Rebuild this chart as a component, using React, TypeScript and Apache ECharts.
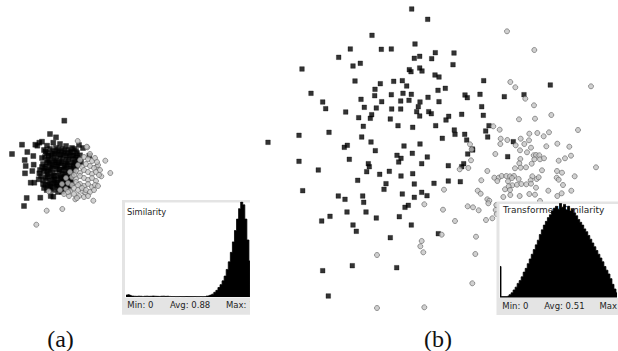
import React, { useEffect, useRef } from "react";
import * as echarts from "echarts";

// ---- panel (a) scatter: [x, y] in picture units ----
const aBlack: [number, number][] = [
  [64.3, 120.7], [50, 134], [56, 137.3], [22, 144.7], [12, 154], [35.3, 144.7], [37.3, 145.7], [42, 141.7],
  [47, 145.7], [27.3, 152], [33.3, 156], [24.7, 160], [25.7, 166], [33.7, 164.7], [32.3, 171], [25, 173.3],
  [39.3, 173.3], [30.7, 182.7], [34.3, 182.7], [38.7, 179.3], [45.3, 185], [26.7, 198], [40.3, 197.7],
  [53.3, 196.7], [24, 206], [80, 155.3], [62, 191.7], [89.3, 155.7], [39.3, 142.7], [53.3, 142.7],
  [40, 170], [43.3, 180], [46.7, 190], [50.7, 196],
  [44, 150], [47, 153], [50, 149], [53, 151], [56, 148], [59, 152], [62, 149], [65, 153], [68, 150], [71, 152],
  [74, 149], [77, 153], [45, 157], [48, 160], [51, 156], [54, 159], [57, 155], [60, 158], [63, 156], [66, 160],
  [69, 157], [72, 159], [75, 156], [78, 160], [43, 164], [46, 167], [49, 163], [52, 166], [55, 162], [58, 165],
  [61, 163], [64, 167], [67, 164], [70, 166], [73, 163], [76, 167], [44, 171], [47, 174], [50, 170], [53, 173],
  [56, 169], [59, 172], [62, 170], [65, 174], [68, 171], [71, 173], [74, 170], [46, 178], [49, 181], [52, 177],
  [55, 180], [58, 176], [61, 179], [64, 177], [67, 181], [70, 178], [48, 185], [51, 188], [54, 184], [57, 187],
  [60, 183], [63, 186], [66, 184], [44, 188], [58, 192], [69, 188], [72, 183], [81, 162], [83, 148], [79, 145],
  [60, 144], [66, 146], [42, 158], [41, 176],
  [45.5, 151.5], [48.5, 155.5], [52, 154], [55, 153.5], [58, 150], [61, 154.5], [64, 151], [67, 155.5],
  [70, 153], [73, 155.5], [76, 151], [47, 162.5], [50, 161], [53, 164.5], [56, 160.5], [59, 163], [62, 161.5],
  [65, 165.5], [68, 162], [71, 168.5], [74, 165], [45, 168.5], [48, 171.5], [51, 168], [54, 175.5], [57, 166.5],
  [60, 169.5], [63, 174.5], [66, 169], [69, 175], [72, 176], [48, 176.5], [51, 183], [54, 179], [57, 182.5],
  [60, 177.5], [63, 181.5], [66, 179], [50, 186.5], [53, 190], [56, 185], [59, 189], [62, 184.5], [42, 167],
  [43, 184], [65, 189], [75, 162], [77, 157.5], [79, 164], [72, 148], [70, 180.5], [68, 186],
];
const aGray: [number, number][] = [
  [77.7, 141], [87.3, 147.3], [105.3, 160.7], [110.3, 173], [101.3, 176.3], [96.7, 166.7], [75.3, 199.3],
  [62.3, 209], [46.7, 210.7], [93.3, 200.7], [82.7, 191], [85.3, 192.7], [48.7, 191.3], [60, 190], [36.3, 224.7],
  [86.7, 146.7],
  [80, 160], [84, 157], [88, 159], [92, 161], [95, 158], [78, 165], [82, 167], [86, 164], [90, 166], [94, 168],
  [98, 165], [76, 171], [80, 173], [84, 170], [88, 172], [92, 174], [96, 172], [99, 175], [72, 177], [76, 179],
  [80, 176], [84, 178], [88, 180], [92, 178], [96, 181], [68, 183], [72, 185], [76, 182], [80, 184], [84, 186],
  [88, 184], [92, 187], [95, 185], [66, 189], [70, 191], [74, 188], [78, 190], [82, 188], [86, 190], [90, 192],
  [64, 194], [69, 196], [74, 194], [79, 196], [84, 197], [88, 196], [66, 178], [70, 172], [74, 175], [62, 184],
  [90, 154], [97, 162], [100, 170], [98, 186], [94, 190], [78, 185], [68, 192], [77, 198],
];

// ---- panel (b) scatter ----
const bBlack: [number, number][] = [
  [411.7, 9], [427.7, 19.3], [372, 35.3], [415, 44], [350.3, 49], [381.3, 49.3], [391.3, 49], [338.7, 57.3],
  [414.3, 58.3], [419.7, 56.3], [435.3, 52.7], [431.7, 58.7], [360.3, 63.3], [353, 66], [302, 69], [409.3, 69.7],
  [411, 71.7], [419.7, 68], [422, 71], [435, 75], [439, 77], [355, 81], [380.3, 83.7], [393.7, 81.3], [402.3, 80.7],
  [406.7, 86], [375, 89.3], [311, 93.3], [391.3, 94.7], [403, 93.3], [411.3, 94.3], [438, 90.3], [374.7, 95.7],
  [361, 99.3], [428, 97.3], [322.7, 102], [381.7, 101.7], [400.7, 101], [409, 100.3], [420, 102], [439, 101.7],
  [325.7, 108.7], [364.3, 107.3], [376.3, 108], [391.7, 109], [400.7, 109], [418.3, 106.7], [416.7, 111.7],
  [428.7, 111.7], [431.3, 113.7], [345.7, 112], [371.7, 114.7], [370.3, 118.3], [358.7, 117.7], [390.3, 119],
  [419.7, 116], [363.3, 126.3], [398, 125.7], [412.7, 127.3], [435.7, 125.7], [299, 135.3], [329, 132.3],
  [268, 142.3], [361.7, 137], [371, 142], [344.3, 147.3], [347.3, 145.3], [404, 146], [420, 144], [375.3, 150.7],
  [412.3, 153.3], [397, 155.3], [401, 158.3], [427.3, 157], [349.3, 159.3], [398.7, 162], [299, 161.3],
  [368.3, 163.7], [369.3, 166.7], [421.7, 163.7], [318.3, 170], [366.7, 171.7], [379.7, 174.3], [389.3, 171.3],
  [401, 176], [412.7, 173.7], [448.3, 165.7], [463.7, 163.7], [467.7, 154], [472.7, 150], [357.7, 180.3],
  [302.7, 190.7], [386, 183.7], [414.3, 184], [434, 183.3], [448.3, 181], [460.3, 181.7], [384, 189.3],
  [338.3, 196], [345, 199.3], [362.7, 196], [363.7, 202.3], [402.3, 194], [421.7, 192.3], [427, 195.7],
  [414.3, 197.3], [347, 212], [366, 212], [405, 207.3], [408.3, 205.3], [330, 216.3], [321.7, 221], [376.3, 218],
  [399.3, 216.7], [353, 225], [356.3, 231.3], [411.3, 225], [390.3, 237.7], [438.3, 233.7], [352.3, 265.7],
  [322.7, 270.7], [396.7, 267.7], [328.3, 296],
  [454, 53], [453, 64.7], [483.7, 80.7], [445.3, 88.3], [465, 95], [467.3, 97.7], [480, 94.3], [504.3, 96.7],
  [524, 94.7], [550.3, 85], [446, 120], [448.7, 116.3], [461.7, 114.3], [481.7, 106.7], [483.3, 115.3],
  [454.3, 130], [455, 134.3], [464.7, 134.3], [466.7, 140], [442.3, 138.3], [489, 125.7], [485.7, 131],
  [487.7, 137], [513.3, 141.7], [472.3, 149], [507.7, 156.7], [461.7, 166.7],
];
const bGray: [number, number][] = [
  [507, 31.3], [534.3, 50], [510.3, 82], [515.3, 87.3], [591, 86.3], [525.3, 98.7], [534, 105.3], [519, 119.3],
  [535, 118.7], [551.3, 115], [493.3, 126.3], [499.7, 129.7], [529.3, 133.7], [537.3, 133], [543.7, 136.3],
  [549, 132.3], [578, 130], [500.7, 138.7], [507.3, 140], [520.7, 138.7], [524.3, 144], [529, 140.3], [470, 144.3],
  [500.3, 144], [515.7, 145.3], [531, 147.7], [546.3, 146.3], [557.3, 143.7], [569.3, 146.7], [471.7, 149.3],
  [520, 150.3], [527, 152.3], [533.7, 155.3], [536, 155], [539.3, 155.3], [534.3, 159.3], [540, 159.3],
  [544, 158.3], [495.3, 154], [520.3, 159], [565, 158.3], [571, 155.7], [558.7, 160.7], [471, 160.3],
  [459.7, 169.3], [468.3, 168], [519.3, 163.3], [515, 168.3], [520.7, 167.7], [526, 167.3], [531.7, 163.7],
  [542, 170.3], [557, 171], [562, 172.7], [596, 167.3], [487.3, 171], [494.3, 177.7], [498.7, 177.7],
  [501.7, 176], [506.3, 176], [510, 176.3], [514, 176], [512, 178], [518.7, 179], [532.3, 176.3], [530.7, 180.3],
  [536.7, 179], [538.7, 177.3], [556.7, 177.7], [558.7, 179.7], [574.7, 176.3], [481.3, 180.3], [508, 181.3],
  [512.3, 185.3], [508.7, 186.3], [517, 184.7], [521.3, 184], [526.3, 184.3], [531, 183.7], [563, 185],
  [536, 187.7], [444, 189.7], [477.7, 190.7], [505, 189.3], [510, 190], [519.7, 196], [529.3, 194],
  [548.3, 190.7], [557.3, 196], [571.3, 190.7], [503.3, 197], [510.3, 195], [540, 201], [497.3, 181],
  [480.7, 193.7], [487.3, 199.3], [489.3, 200.7], [488.3, 203.3], [424.3, 204.3], [443, 209.7], [467.7, 206.3],
  [473, 207.3], [478.7, 210.3], [496.3, 205], [495.7, 210], [496.7, 214], [455, 221], [486, 220], [492.3, 218.3],
  [441.7, 234.7], [421.7, 241], [420.3, 246.3], [423.3, 252.3], [476, 236.7], [377, 255], [475.3, 254],
  [472.3, 283.3], [377, 308], [424.3, 307.3], [535, 194.7], [561.7, 193.3],
];

// ---- inset histograms (relative bin heights) ----
const histA: number[] = [
  0.02, 0.025, 0.018,
  0.01, 0.008, 0.007, 0.009, 0.008, 0.006, 0.008, 0.009, 0.007, 0.008, 0.01, 0.008, 0.007, 0.006, 0.008, 0.009,
  0.007, 0.008, 0.006, 0.005, 0.005, 0.004, 0.004, 0.005, 0.004, 0.004, 0.005, 0.004, 0.004, 0.004, 0.005,
  0.004, 0.004, 0.005, 0.004, 0.005,
  0.01, 0.012, 0.02, 0.03, 0.05, 0.07, 0.1, 0.13, 0.17, 0.22, 0.29, 0.37, 0.47, 0.58, 0.7, 0.82, 0.93, 1.0,
  0.97, 0.82, 0.6, 0.38,
];
const histB: number[] = [
  0.33, 0.01, 0.01, 0.01, 0.015, 0.03, 0.05, 0.08, 0.11, 0.15, 0.18, 0.22, 0.27, 0.31, 0.36, 0.41, 0.46, 0.51,
  0.56, 0.61, 0.67, 0.72, 0.77, 0.81, 0.85, 0.88, 0.92, 0.95, 0.97, 0.94, 1.0, 0.96, 0.99, 0.93, 0.97, 0.92,
  0.94, 0.9, 0.87, 0.83, 0.8, 0.77, 0.73, 0.7, 0.66, 0.62, 0.58, 0.54, 0.5, 0.46, 0.42, 0.38, 0.33, 0.29,
  0.25, 0.2, 0.14, 0.09, 0.05,
];

const titleA = "Similarity";
const titleB = "Transformed Similarity";
const statsA = ["Min: 0", "Avg: 0.88", "Max: 1"];
const statsB = ["Min: 0", "Avg: 0.51", "Max"];
const panelLabels = ["(a)", "(b)"];

const sans = "DejaVu Sans";

function buildOption(): any {
  const txt = (x: number, y: number, text: string, size: number, z: number) => ({
    type: "text",
    x,
    y,
    z,
    silent: true,
    style: { text, fill: "#1e1e1e", font: `${size}px "${sans}"`, textVerticalAlign: "middle" },
  });
  const histSeries = (data: number[], idx: number) => ({
    type: "line",
    data,
    xAxisIndex: idx,
    yAxisIndex: idx,
    step: "middle",
    symbol: "none",
    z: 10,
    silent: true,
    lineStyle: { color: "#000", width: 0.8 },
    areaStyle: { color: "#000", opacity: 1 },
  });
  const scatterBlack = (data: [number, number][], size: number) => ({
    type: "scatter", data, symbol: "rect", symbolSize: size, z: 1, silent: true,
    itemStyle: { color: "#000", borderColor: "#000", borderWidth: 0.4 },
  });
  const scatterGray = (data: [number, number][], size: number) => ({
    type: "scatter", data, symbol: "circle", symbolSize: size, z: 1, silent: true,
    itemStyle: { color: "#c4c4c4", borderColor: "#5e5e5e", borderWidth: 0.8 },
  });
  return {
    animation: false,
    backgroundColor: "#ffffff",
    grid: [
      { left: 0, top: 0, width: 618, height: 351 },
      { left: 125, top: 202, width: 126, height: 95 },
      { left: 499, top: 203.5, width: 120, height: 94 },
    ],
    xAxis: [
      { type: "value", min: 0, max: 618, show: false, gridIndex: 0 },
      { type: "category", data: histA.map((_, i) => String(i)), show: false, gridIndex: 1 },
      { type: "category", data: histB.map((_, i) => String(i)), show: false, gridIndex: 2 },
    ],
    yAxis: [
      { type: "value", min: 0, max: 351, inverse: true, show: false, gridIndex: 0 },
      { type: "value", min: 0, max: 1, show: false, gridIndex: 1 },
      { type: "value", min: 0, max: 1, show: false, gridIndex: 2 },
    ],
    series: [
      scatterBlack(aBlack, 5),
      scatterGray(aGray, 5),
      scatterBlack(bBlack, 4.6),
      scatterGray(bGray, 5),
      histSeries(histA, 1),
      histSeries(histB, 2),
    ],
    graphic: [
      // inset (a) frame
      { type: "rect", z: 5, silent: true, shape: { x: 122, y: 200, width: 128, height: 114.7 }, style: { fill: "#e4e4e4" } },
      { type: "rect", z: 5, silent: true, shape: { x: 125, y: 202.5, width: 125, height: 95 }, style: { fill: "#ffffff" } },
      // inset (b) frame
      { type: "rect", z: 5, silent: true, shape: { x: 496.5, y: 201.5, width: 121.5, height: 113.5 }, style: { fill: "#e4e4e4" } },
      { type: "rect", z: 5, silent: true, shape: { x: 499.5, y: 204, width: 118.5, height: 94 }, style: { fill: "#ffffff" } },
      txt(127, 211.5, titleA, 8.3, 6),
      txt(503, 209.5, titleB, 9, 6),
      txt(127.3, 304.5, statsA[0], 8.5, 12),
      txt(170, 304.5, statsA[1], 8.5, 12),
      txt(226, 304.5, statsA[2], 8.5, 12),
      txt(502.3, 306, statsB[0], 8.5, 12),
      txt(544.3, 306, statsB[1], 8.5, 12),
      txt(599.5, 306, statsB[2], 8.5, 12),
      // crop of inset (a) at its right edge
      { type: "rect", z: 20, silent: true, shape: { x: 250, y: 196, width: 12, height: 122 }, style: { fill: "#ffffff" } },
      {
        type: "text", z: 20, silent: true, x: 60.5, y: 338.5,
        style: { text: panelLabels[0], fill: "#111", font: '24px "Liberation Serif"', textAlign: "center", textVerticalAlign: "middle" },
      },
      {
        type: "text", z: 20, silent: true, x: 438, y: 338.5,
        style: { text: panelLabels[1], fill: "#111", font: '24px "Liberation Serif"', textAlign: "center", textVerticalAlign: "middle" },
      },
    ],
  };
}

export default function App() {
  const ref = useRef<HTMLDivElement>(null);
  useEffect(() => {
    if (!ref.current) return;
    const chart = echarts.init(ref.current, null, { renderer: "svg" });
    chart.setOption(buildOption());
    return () => chart.dispose();
  }, []);
  return (
    <div
      ref={ref}
      style={{ position: "fixed", left: 0, top: 0, width: 618, height: 351, background: "#fff" }}
    />
  );
}
